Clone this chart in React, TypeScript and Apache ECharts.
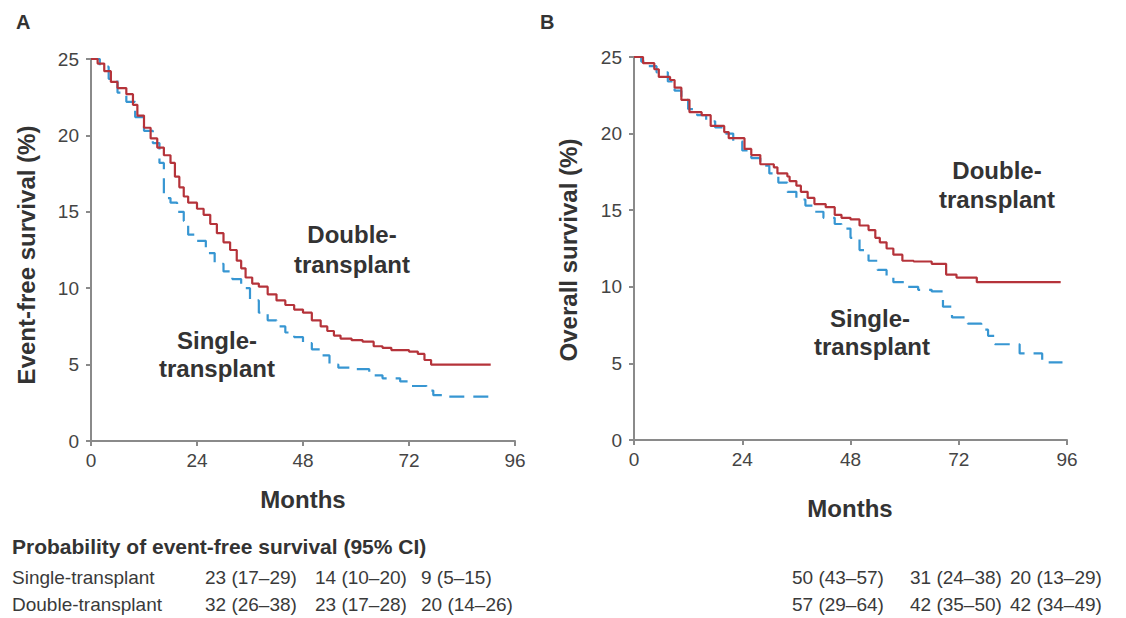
import React, { useEffect, useRef } from "react";
import * as echarts from "echarts";

// Month ticks and survival ticks
const monthTicks = [0, 24, 48, 72, 96];
const survivalTicks = [0, 5, 10, 15, 20, 25];

// Panel A: event-free survival, [month, value]
const efsDouble: number[][] = [
  [0, 25], [1.5, 24.7], [3, 24.2], [4.5, 23.5], [6, 23.1], [8, 22.7], [9.5, 22], [10.5, 21.3],
  [12, 20.5], [13.5, 19.8], [15, 19.2], [16.5, 18.7], [18, 18.2], [19, 17.3], [20, 16.6], [21, 16.0],
  [22, 15.6], [24, 15.2], [25.5, 14.8], [27, 14.2], [28.5, 13.6], [30, 13.0], [31.5, 12.5], [33, 11.8],
  [34, 11.3], [35, 10.7], [36.5, 10.3], [38, 10.1], [40, 9.6], [42, 9.2], [44, 8.9], [46, 8.6],
  [48, 8.4], [50, 7.9], [52, 7.5], [53.5, 7.2], [55, 6.9], [56.5, 6.7], [59, 6.6], [61.5, 6.5],
  [64, 6.2], [66, 6.1], [68, 5.95], [72, 5.85], [74, 5.7], [75.5, 5.3], [77, 5.0], [90.5, 5.0],
];
const efsSingle: number[][] = [
  [0, 25], [2, 24.5], [4, 23.7], [6, 22.8], [8, 22.2], [10, 21.2], [12, 20.3], [14, 19.5],
  [15.5, 18.2], [16.5, 15.9], [18, 15.6], [19.5, 15.0], [21, 14.4], [22, 13.5], [24, 13.1],
  [26, 12.3], [28, 11.6], [30, 11.1], [32, 10.6], [34, 10.0], [36, 9.2], [38, 8.4], [40, 7.9],
  [42, 7.5], [44, 7.1], [46, 6.8], [48, 6.4], [50, 6.0], [52, 5.6], [54, 5.0], [56, 4.8],
  [60, 4.7], [63, 4.3], [66, 4.1], [70, 3.9], [72, 3.6], [76, 3.3], [77.5, 3.0], [80, 2.9], [92, 2.9],
];

// Panel B: overall survival, [month, value]
const osDouble: number[][] = [
  [0, 25], [2, 24.6], [4.5, 24.2], [5.5, 23.7], [8, 23.5], [9, 23.0], [10.5, 22.2], [12.3, 21.4],
  [15, 21.2], [17, 20.5], [20, 20.1], [21, 19.7], [23.5, 19.7], [24.5, 19.0], [26, 18.6], [28, 18.0],
  [31, 17.8], [31.8, 17.4], [34, 17.2], [34.5, 16.9], [36, 16.6], [37, 16.2], [38.5, 15.8], [40, 15.4],
  [42.5, 15.2], [44.5, 14.7], [46, 14.5], [48, 14.4], [50, 14.0], [52, 13.7], [53.5, 13.2], [54.5, 12.9],
  [56, 12.5], [57.5, 12.1], [59.5, 11.7], [62, 11.65], [66, 11.5], [69.2, 10.8], [71.5, 10.6],
  [76, 10.3], [94.6, 10.3],
];
const osSingle: number[][] = [
  [0, 25], [1.6, 24.7], [3, 24.4], [5, 24], [7.5, 23.4], [9, 22.8], [10.5, 22.2], [12, 21.6],
  [14, 21.2], [16, 20.8], [18, 20.4], [20, 20.0], [22, 19.5], [24, 18.9], [26, 18.4], [28, 17.9],
  [30, 17.4], [32, 16.8], [34, 16.2], [36, 15.7], [38, 15.3], [40, 14.9], [42, 14.5], [44.5, 14.1],
  [46, 13.8], [48, 13.2], [50, 12.4], [52, 11.7], [54, 11.1], [56, 10.6], [57.5, 10.3], [60, 10.0],
  [63, 9.8], [66, 9.7], [68.5, 8.7], [70.5, 8.0], [74, 7.6], [77, 7.2], [78.5, 6.8], [80, 6.25],
  [85.5, 5.65], [90.5, 5.07], [95, 5.07],
];

// Table below charts
const tableTitle = "Probability of event-free survival (95% CI)";
const rowNames = ["Single-transplant", "Double-transplant"];
const efsTable = [
  ["23 (17–29)", "14 (10–20)", "9 (5–15)"],
  ["32 (26–38)", "23 (17–28)", "20 (14–26)"],
];
const osTable = [
  ["50 (43–57)", "31 (24–38)", "20 (13–29)"],
  ["57 (29–64)", "42 (35–50)", "42 (34–49)"],
];

const RED = "#b5333a";
const BLUE = "#3796d2";
const AXIS = "#8a8a8a";
const TEXT = "#333333";
const FONT = "'Liberation Sans', Arial, Helvetica, sans-serif";

export default function App() {
  const ref = useRef<HTMLDivElement>(null);
  useEffect(() => {
    document.body.style.margin = "0";
    const chart = echarts.init(ref.current!, undefined, { renderer: "svg" });

    const xAxisBase = (gridIndex: number) => ({
      type: "value" as const,
      gridIndex,
      min: monthTicks[0],
      max: monthTicks[monthTicks.length - 1],
      interval: 24,
      axisLine: { show: true, lineStyle: { color: AXIS, width: 2 } },
      axisTick: { show: true, length: 5, lineStyle: { color: AXIS, width: 2 } },
      axisLabel: { color: "#444", fontSize: 19, fontFamily: FONT, margin: 10 },
      splitLine: { show: false },
    });
    const yAxisBase = (gridIndex: number) => ({
      type: "value" as const,
      gridIndex,
      min: survivalTicks[0],
      max: survivalTicks[survivalTicks.length - 1],
      interval: 5,
      axisLine: { show: true, lineStyle: { color: AXIS, width: 2 } },
      axisTick: { show: true, length: 5, lineStyle: { color: AXIS, width: 2 } },
      axisLabel: { color: "#444", fontSize: 19, fontFamily: FONT, margin: 12 },
      splitLine: { show: false },
    });

    const lineSeries = (data: number[][], idx: number, color: string, dashed: boolean) => ({
      type: "line" as const,
      xAxisIndex: idx,
      yAxisIndex: idx,
      data,
      step: "end" as const,
      showSymbol: false,
      symbol: "none",
      lineStyle: { color, width: 2.2, type: dashed ? [15, 9] : "solid" },
      z: dashed ? 2 : 3,
    });

    const txt = (text: string, x: number, y: number, opts: any = {}) => ({
      type: "text" as const,
      x,
      y,
      rotation: opts.rotation || 0,
      style: {
        text,
        fill: opts.fill || TEXT,
        font: `${opts.bold ? "bold " : ""}${opts.size || 18}px ${FONT}`,
        align: opts.align || "left",
        verticalAlign: "middle",
      },
    });

    const graphics: any[] = [
      txt("A", 16, 22, { bold: true, size: 20 }),
      txt("B", 540, 22, { bold: true, size: 20 }),
      txt("Event-free survival (%)", 26, 255, { bold: true, size: 24, align: "center", rotation: Math.PI / 2 }),
      txt("Overall survival (%)", 568, 250, { bold: true, size: 24, align: "center", rotation: Math.PI / 2 }),
      txt("Months", 303, 499, { bold: true, size: 24, align: "center" }),
      txt("Months", 850, 508, { bold: true, size: 24, align: "center" }),
      txt("Double-", 352, 234, { bold: true, size: 24, align: "center" }),
      txt("transplant", 352, 264, { bold: true, size: 24, align: "center" }),
      txt("Single-", 217, 340, { bold: true, size: 24, align: "center" }),
      txt("transplant", 217, 368, { bold: true, size: 24, align: "center" }),
      txt("Double-", 997, 170, { bold: true, size: 24, align: "center" }),
      txt("transplant", 997, 199, { bold: true, size: 24, align: "center" }),
      txt("Single-", 870, 318, { bold: true, size: 24, align: "center" }),
      txt("transplant", 872, 346, { bold: true, size: 24, align: "center" }),
      txt(tableTitle, 12, 546, { bold: true, size: 21 }),
    ];
    const rowY = [577, 604];
    const leftCols = [205, 315, 421];
    const rightCols = [792, 910, 1010];
    rowNames.forEach((name, r) => {
      graphics.push(txt(name, 12, rowY[r], { size: 19, fill: "#3a3a3a" }));
      efsTable[r].forEach((v, c) => graphics.push(txt(v, leftCols[c], rowY[r], { size: 19, fill: "#3a3a3a" })));
      osTable[r].forEach((v, c) => graphics.push(txt(v, rightCols[c], rowY[r], { size: 19, fill: "#3a3a3a" })));
    });

    chart.setOption({
      animation: false,
      backgroundColor: "#ffffff",
      grid: [
        { left: 91, top: 59, width: 424, height: 382 },
        { left: 634, top: 57, width: 433, height: 383 },
      ],
      xAxis: [xAxisBase(0), xAxisBase(1)],
      yAxis: [yAxisBase(0), yAxisBase(1)],
      series: [
        lineSeries(efsSingle, 0, BLUE, true),
        lineSeries(efsDouble, 0, RED, false),
        lineSeries(osSingle, 1, BLUE, true),
        lineSeries(osDouble, 1, RED, false),
      ],
      graphic: graphics,
    });
    return () => chart.dispose();
  }, []);
  return (
    <div
      ref={ref}
      style={{ position: "fixed", left: 0, top: 0, width: 1126, height: 618, background: "#fff" }}
    />
  );
}
